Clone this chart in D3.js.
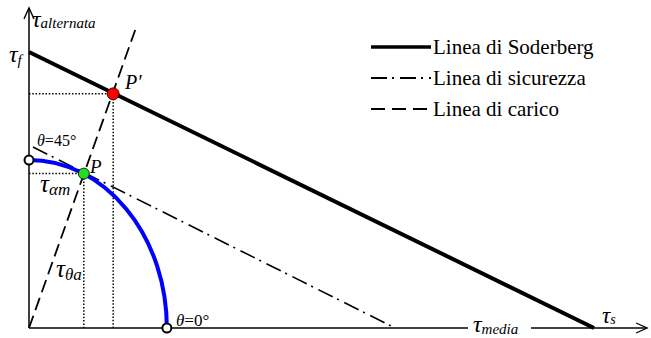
<!DOCTYPE html>
<html>
<head>
<meta charset="utf-8">
<script src="https://cdn.jsdelivr.net/npm/d3@7"></script>
<style>
  html, body { margin: 0; padding: 0; background: #fff; }
  svg { display: block; }
</style>
</head>
<body>
<svg id="chart" width="651" height="338"></svg>
<script>
// Stress values (same units on both axes)
const tauS = 100;             // Soderberg intercept on the mean-stress axis
const tauF = 48.8;            // Soderberg intercept on the alternating-stress axis
const axisMax = [109.4, 56.6];  // axis extents [mean, alternating]

const soderberg = [[0, tauF], [tauS, 0]];
const safetyLine = [[0.7, 32.0], [64.8, 0]];
const loadLine = [[0, 0], [18.8, 52.7]];

// Quarter ellipse of the working stresses: intercepts at theta = 0° and theta = 45°
const ellipseTheta0 = 24.4;   // on the mean axis
const ellipseTheta45 = 29.7;  // on the alternating axis

const pointP = [9.7, 27.3];
const pointPprime = [14.9, 41.4];

const legendItems = [
  { label: "Linea di Soderberg", kind: "solid" },
  { label: "Linea di sicurezza", kind: "dashdot" },
  { label: "Linea di carico", kind: "dashed" }
];

const svg = d3.select("#chart");
const x = d3.scaleLinear().domain([0, tauS]).range([29, 594]);
const y = d3.scaleLinear().domain([0, tauF]).range([328, 52]);
const line = d3.line().x(d => x(d[0])).y(d => y(d[1]));

function addText(px, py, size) {
  return svg.append("text").attr("x", px).attr("y", py)
    .style("font-family", '"Liberation Serif"').attr("font-size", size);
}

// Axes
const xEnd = x(axisMax[0]), yTop = y(axisMax[1]);
svg.append("line").attr("x1", x(0)).attr("y1", y(0)).attr("x2", xEnd).attr("y2", y(0))
  .attr("stroke", "#000").attr("stroke-width", 1.5);
svg.append("line").attr("x1", x(0)).attr("y1", y(0)).attr("x2", x(0)).attr("y2", yTop)
  .attr("stroke", "#000").attr("stroke-width", 1.5);
svg.append("path")
  .attr("d", `M${xEnd - 11},${y(0) - 5}L${xEnd},${y(0)}L${xEnd - 11},${y(0) + 5}`)
  .attr("fill", "none").attr("stroke", "#000").attr("stroke-width", 1.3);
svg.append("path")
  .attr("d", `M${x(0) - 5},${yTop + 11}L${x(0)},${yTop}L${x(0) + 5},${yTop + 11}`)
  .attr("fill", "none").attr("stroke", "#000").attr("stroke-width", 1.3);

// Projection lines from P and P'
[pointPprime, pointP].forEach(p => {
  svg.append("path")
    .attr("d", line([[0, p[1]], p, [p[0], 0]]))
    .attr("fill", "none").attr("stroke", "#000").attr("stroke-width", 1.5)
    .attr("stroke-dasharray", "1.5,1.8");
});

// Soderberg line
svg.append("path").attr("d", line(soderberg))
  .attr("fill", "none").attr("stroke", "#000").attr("stroke-width", 4);

// Safety line
svg.append("path").attr("d", line(safetyLine))
  .attr("fill", "none").attr("stroke", "#000").attr("stroke-width", 1.6)
  .attr("stroke-dasharray", "16,5,2,6");

// Load line
svg.append("path").attr("d", line(loadLine))
  .attr("fill", "none").attr("stroke", "#000").attr("stroke-width", 1.8)
  .attr("stroke-dasharray", "13,6");

// Ellipse arc
const rx = x(ellipseTheta0) - x(0), ry = y(0) - y(ellipseTheta45);
svg.append("path")
  .attr("d", `M${x(0)},${y(ellipseTheta45)}A${rx},${ry} 0 0 1 ${x(ellipseTheta0)},${y(0)}`)
  .attr("fill", "none").attr("stroke", "#0000ff").attr("stroke-width", 4);

// Gap in the mean axis behind its label
svg.append("rect").attr("x", 468).attr("y", y(0) - 4).attr("width", 63).attr("height", 8)
  .attr("fill", "#fff");

// Markers
[[0, ellipseTheta45], [ellipseTheta0, 0]].forEach(p => {
  svg.append("circle").attr("cx", x(p[0])).attr("cy", y(p[1])).attr("r", 4.5)
    .attr("fill", "#fff").attr("stroke", "#000").attr("stroke-width", 2);
});
svg.append("circle").attr("cx", x(pointP[0])).attr("cy", y(pointP[1])).attr("r", 5.5)
  .attr("fill", "#22dd22").attr("stroke", "#000").attr("stroke-width", 0.8);
svg.append("circle").attr("cx", x(pointPprime[0])).attr("cy", y(pointPprime[1])).attr("r", 6)
  .attr("fill", "#ff0000").attr("stroke", "#000").attr("stroke-width", 0.8);

// Labels
function tauLabel(px, py, sub, size, subSize, dy) {
  const t = addText(px, py, size).attr("font-style", "italic");
  t.append("tspan").text("τ");
  t.append("tspan").attr("font-size", subSize).attr("dy", dy).text(sub);
  return t;
}
tauLabel(32, 27, "alternata", 24, 15, 1);
tauLabel(9, 62, "f", 24, 15, 3);
tauLabel(40, 192, "αm", 25, 17, 3);
tauLabel(56, 277, "θa", 25, 17, 3);
tauLabel(473, 332, "media", 24, 15, 2);
tauLabel(602, 323, "s", 23, 14, 1);

addText(125, 89, 20).attr("font-style", "italic").text("P′");
addText(90, 173, 19).attr("font-style", "italic").text("P");

function thetaLabel(px, py, deg, size) {
  const t = addText(px, py, size);
  t.append("tspan").attr("font-style", "italic").text("θ");
  t.append("tspan").text("=" + deg + "°");
}
thetaLabel(37, 146, "45", 16);
thetaLabel(176, 326, "0", 17);

// Legend
const legend = svg.append("g");
legendItems.forEach((d, i) => {
  const ly = 47 + i * 31;
  const l = legend.append("line").attr("x1", 371).attr("x2", 431).attr("y1", ly).attr("y2", ly)
    .attr("stroke", "#000");
  if (d.kind === "solid") l.attr("stroke-width", 3.5);
  if (d.kind === "dashdot") l.attr("stroke-width", 2).attr("stroke-dasharray", "16,5,2,6");
  if (d.kind === "dashed") l.attr("stroke-width", 2).attr("stroke-dasharray", "14,7");
  addText(433, ly + 7, 21).text(d.label);
});
</script>
</body>
</html>
